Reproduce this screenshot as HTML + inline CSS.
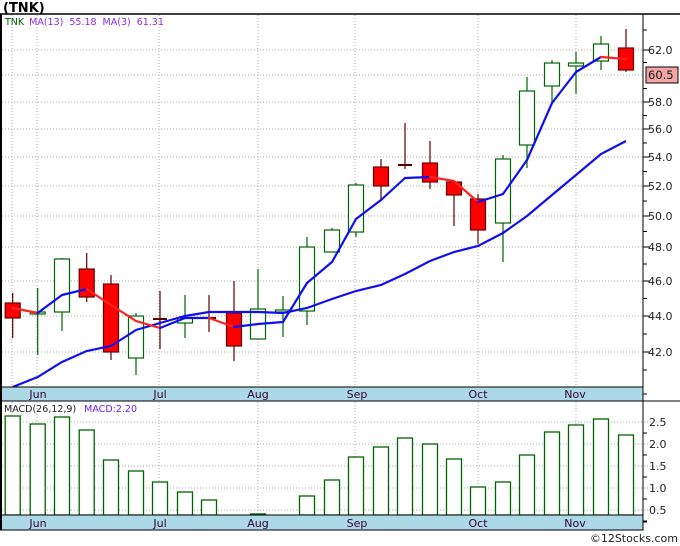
<!DOCTYPE html>
<html><head><meta charset="utf-8"><style>
html,body{margin:0;padding:0;background:#fff;}
svg{display:block;font-family:"DejaVu Sans","Liberation Sans",sans-serif;}
</style></head><body>
<svg id="s" width="680" height="546" viewBox="0 0 680 546" xmlns="http://www.w3.org/2000/svg">
<rect width="680" height="546" fill="#fff"/>
<text x="3" y="12" font-size="13" font-weight="bold" fill="#000">(TNK)</text>
<g id="grid" stroke="#aaa" stroke-width="1" stroke-dasharray="1,2"></g>
<g id="main"></g>
<rect x="1" y="387" width="642" height="14" fill="#add8e6" stroke="#000" stroke-width="1"/>
<rect x="1" y="515" width="642" height="15" fill="#add8e6" stroke="#000" stroke-width="1"/>
<g font-size="11" fill="#330033" text-anchor="middle">
<text x="38" y="398">Jun</text><text x="160" y="398">Jul</text><text x="258" y="398">Aug</text><text x="357" y="398">Sep</text><text x="478" y="398">Oct</text><text x="575" y="398">Nov</text>
<text x="38" y="527">Jun</text><text x="160" y="527">Jul</text><text x="258" y="527">Aug</text><text x="357" y="527">Sep</text><text x="478" y="527">Oct</text><text x="575" y="527">Nov</text>
</g>
<line x1="0" y1="14" x2="680" y2="14" stroke="#000" stroke-width="1.5"/>
<line x1="1" y1="14" x2="1" y2="530" stroke="#000" stroke-width="2"/>
<line x1="643" y1="14" x2="643" y2="530" stroke="#000" stroke-width="1"/>
<line x1="0" y1="401" x2="680" y2="401" stroke="#000" stroke-width="1"/>
<line x1="0" y1="530" x2="643" y2="530" stroke="#000" stroke-width="1"/>
<g id="axis" font-size="11" fill="#222"></g>
<rect x="646" y="67" width="32" height="16" fill="#f4a6a6" stroke="#000" stroke-width="1"/>
<text x="648" y="79" font-size="11.5" fill="#111">60.5</text>
<text x="5" y="25" font-size="9.5"><tspan fill="#006400">TNK</tspan><tspan fill="#8a2be2" dx="5">MA(13)</tspan><tspan fill="#8a2be2" dx="6">55.18</tspan><tspan fill="#8a2be2" dx="6">MA(3)</tspan><tspan fill="#8a2be2" dx="6">61.31</tspan></text>
<text x="4" y="412" font-size="9.5"><tspan fill="#222">MACD(26,12,9)</tspan><tspan fill="#6a1bf2" dx="8">MACD:2.20</tspan></text>
<text x="678" y="542" font-size="11" fill="#222" text-anchor="end">©12Stocks.com</text>
</svg>
<script>
var NS="http://www.w3.org/2000/svg";
function el(p,t,a){var e=document.createElementNS(NS,t);for(var k in a)e.setAttribute(k,a[k]);document.getElementById(p).appendChild(e);return e;}
var gy=[50,75,102,129,157,186,216,247,281,316,352];
gy.forEach(function(y){el('grid','line',{x1:2,y1:y,x2:643,y2:y});});
[422,444,466,488,510].forEach(function(y){el('grid','line',{x1:2,y1:y,x2:660,y2:y});});
[12,37,159,258,355,478,576].forEach(function(x){el('grid','line',{x1:x,y1:15,x2:x,y2:387});el('grid','line',{x1:x,y1:402,x2:x,y2:515});});
var lab=['62.0','60.0','58.0','56.0','54.0','52.0','50.0','48.0','46.0','44.0','42.0'];
lab.forEach(function(t,i){if(i==1)return;var y=gy[i];el('axis','line',{x1:643,y1:y,x2:650,y2:y,stroke:'#000'});var e=el('axis','text',{x:648,y:y+4});e.textContent=t;});
for(var i=0;i<gy.length-1;i++){var m=(gy[i]+gy[i+1])/2;el('axis','line',{x1:643,y1:m,x2:647,y2:m,stroke:'#000'});}
el('axis','line',{x1:643,y1:30,x2:647,y2:30,stroke:'#000'});
el('axis','line',{x1:643,y1:370,x2:647,y2:370,stroke:'#000'});
el('axis','line',{x1:643,y1:394,x2:647,y2:394,stroke:'#000'});
[['2.5',422],['2.0',444],['1.5',466],['1.0',488],['0.5',510]].forEach(function(a){var e=el('axis','text',{x:649,y:a[1]+4});e.textContent=a[0];el('axis','line',{x1:643,y1:a[1]+11,x2:647,y2:a[1]+11,stroke:'#000'});});
el('axis','line',{x1:643,y1:522,x2:647,y2:522,stroke:'#000'});
var C=[
[12.7,303,318,293,338,'r'],[37.7,312,314,288,355,'g'],[62,259,312,258,331,'g'],[86.7,269,297,253,302,'r'],
[111,284,352,275,360,'r'],[136,316,358,313,375,'g'],[160,318,320,291,349,'d'],[185,318,323,295,338,'g'],
[209,317,319,295,332,'d'],[234,313,346,281,361,'r'],[258,309,339,269,339,'g'],[283,310,312,296,337,'g'],
[307,247,311,237,325,'g'],[332,230,252,228,252,'g'],[356,185,232,183,237,'g'],[381,167,186,159,201,'r'],
[405,164,166,123,169,'d'],[430,163,182,141,189,'r'],[454,182,195,182,226,'r'],[478,199,230,194,244,'r'],
[503,159,223,155,262,'g'],[527,91,145,77,168,'g'],[552,63,86,60,104,'g'],[576,63,66,52,94,'g'],
[601,44,61,36,70,'g'],[626,48,70,29,72,'r']];
C.forEach(function(c){var x=c[0],col=c[5]=='g'?'#006400':'#5a0000';
el('main','line',{x1:x,y1:c[3],x2:x,y2:c[4],stroke:col,'stroke-width':1.2});
if(c[5]=='d'){el('main','line',{x1:x-7,y1:c[1]+1,x2:x+7,y2:c[1]+1,stroke:col,'stroke-width':2});}
else el('main','rect',{x:x-7.5,y:c[1],width:15,height:Math.max(c[2]-c[1],2),fill:c[5]=='g'?'#fff':'#ff0000',stroke:c[5]=='g'?'#006400':'#6a0000','stroke-width':1.2});
});
var m13=[[12.7,387],[37.7,377],[62,362],[86.7,351],[111,346],[136,330],[160,323],[185,316],[209,312],[234,312],[258,312],[283,313],[307,308],[332,299],[356,291],[381,285],[405,274],[430,261],[454,252],[478,246],[503,233],[527,216],[552,195],[576,175],[601,154],[626,141]];
el('main','polyline',{points:m13.map(function(p){return p.join(',')}).join(' '),fill:'none',stroke:'#1010ee','stroke-width':2.2});
var m3=[[12.7,308],[37.7,313],[62,295],[86.7,289],[111,305],[136,321],[160,328],[185,318],[209,318],[234,327],[258,324],[283,322],[307,283],[332,262],[356,219],[381,200],[405,178],[430,177],[454,181],[478,202],[503,194],[527,160],[552,103],[576,72],[601,57],[626,59]];
for(var i=0;i<m3.length-1;i++){var a=m3[i],b=m3[i+1];el('main','line',{x1:a[0],y1:a[1],x2:b[0],y2:b[1],stroke:b[1]>a[1]?'#ff2020':'#1010ee','stroke-width':2.2,'stroke-linecap':'round'});}
var mb=[416,424,417,430,460,471,482,492,500,0,514,0,496,480,457,447,438,444,459,487,482,455,432,425,419,435];
mb.forEach(function(t,i){if(!t)return;var x=C[i][0];el('main','rect',{x:x-7.5,y:t,width:15,height:515-t,fill:'#fff',stroke:'#006400','stroke-width':1.3});});
</script>
</body></html>
